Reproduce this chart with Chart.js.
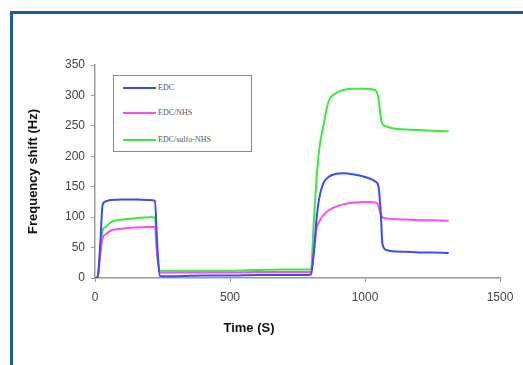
<!DOCTYPE html>
<html>
<head>
<meta charset="utf-8">
<script src="https://cdn.jsdelivr.net/npm/chart.js@4.4.1/dist/chart.umd.min.js"></script>
<style>
  html, body { margin: 0; padding: 0; background: #fff; }
  #wrap { position: relative; width: 523px; height: 365px; overflow: hidden; }
  #frame {
    position: absolute; left: 10px; top: 11px; width: 520px; height: 360px;
    border-left: 3px solid #1d5a98; border-top: 3px solid #1d5a98;
    pointer-events: none;
  }
  #legend {
    position: absolute; left: 113px; top: 75px; width: 137px; height: 75px;
    border: 1px solid #8a8a8a; background: #fff;
    font-family: "Liberation Serif", "Times New Roman", serif; font-size: 8px; color: #555;
  }
  .item { position: absolute; left: 9px; height: 10px; line-height: 10px; }
  .item span.line { display: inline-block; width: 33px; height: 2px; vertical-align: middle; margin-right: 2px; }
</style>
</head>
<body>
<div id="wrap">
  <canvas id="freqChart" width="523" height="365"></canvas>
  <div id="frame"></div>
  <div id="legend"></div>
</div>
<script>
// time points (s), shared by all series
const times = [0, 10, 20, 28, 40, 60, 100, 150, 200, 222, 230, 240, 300, 400, 500, 600, 700, 790, 800,
               810, 820, 830, 845, 865, 890, 920, 960, 1000, 1040, 1050, 1058, 1065, 1080, 1100, 1150, 1200, 1250, 1310];

const edc = [0, 2, 60, 120, 126, 128, 129, 129, 128, 127, 60, 3, 3, 4, 4, 5, 5, 5, 6,
             40, 95, 130, 155, 166, 171, 172, 170, 166, 158, 150, 110, 55, 46, 44, 43, 42, 42, 41];
const edcNhs = [0, 2, 40, 65, 72, 78, 81, 83, 84, 84, 40, 9, 9, 9, 9, 10, 10, 10, 10,
                40, 80, 92, 103, 111, 117, 121, 124, 125, 124, 118, 105, 100, 98, 97, 96, 95, 95, 94];
const edcSulfo = [0, 2, 50, 78, 84, 92, 96, 98, 100, 100, 40, 12, 12, 12, 12, 13, 14, 14, 15,
                  90, 160, 210, 248, 290, 303, 309, 311, 311, 308, 295, 265, 253, 249, 246, 244, 243, 242, 241];

const seriesNames = ['EDC', 'EDC/NHS', 'EDC/sulfo-NHS'];
const seriesColors = ['#3b4cf2', '#ff4cf0', '#3fe83f'];
const seriesValues = [edc, edcNhs, edcSulfo];

const xTicks = [0, 500, 1000, 1500];
const yMax = 350;

const datasets = seriesValues.map((vals, i) => ({
    label: seriesNames[i],
    data: times.map((t, k) => ({ x: t, y: vals[k] })),
    borderColor: seriesColors[i],
    backgroundColor: seriesColors[i],
    borderWidth: 2,
    pointRadius: 0,
    cubicInterpolationMode: 'monotone',
    fill: false
}));

// x axis title drawn a bit left of centre, like the original
const xTitlePlugin = {
    id: 'xTitle',
    afterDraw(chart) {
        const ctx = chart.ctx;
        ctx.save();
        ctx.font = 'bold 13px "Liberation Sans", Arial, sans-serif';
        ctx.fillStyle = '#111';
        ctx.textAlign = 'center';
        ctx.textBaseline = 'middle';
        ctx.fillText('Time (S)', chart.chartArea.left + 154, 328);
        ctx.restore();
    }
};

const tickFont = { family: '"Liberation Sans", Arial, sans-serif', size: 12 };

new Chart(document.getElementById('freqChart').getContext('2d'), {
    type: 'line',
    data: { datasets: datasets },
    options: {
        responsive: false,
        animation: false,
        layout: { padding: { left: 26, top: 65, right: 23, bottom: 0 } },
        plugins: {
            legend: { display: false },
            tooltip: { enabled: false }
        },
        scales: {
            x: {
                type: 'linear',
                min: 0,
                max: 1500,
                afterBuildTicks: axis => { axis.ticks = xTicks.map(v => ({ value: v })); },
                afterFit: axis => { axis.height = 87; },
                grid: { drawOnChartArea: false, tickLength: 4, color: '#9a9a9a' },
                border: { color: '#9a9a9a', width: 1.5 },
                ticks: { font: tickFont, color: '#444', padding: 8, maxRotation: 0, callback: v => String(v) }
            },
            y: {
                min: 0,
                max: yMax,
                afterFit: axis => { axis.width = 69; },
                grid: { drawOnChartArea: false, tickLength: 4, color: '#9a9a9a' },
                border: { color: '#9a9a9a', width: 1.5 },
                ticks: { stepSize: 50, font: tickFont, color: '#444', padding: 6 },
                title: {
                    display: true,
                    text: 'Frequency shift (Hz)',
                    font: { family: '"Liberation Sans", Arial, sans-serif', size: 13, weight: 'bold' },
                    color: '#111',
                    padding: { top: 0, bottom: 4 }
                }
            }
        }
    },
    plugins: [xTitlePlugin]
});

// legend box in the plot, built from the series arrays
const legendEl = document.getElementById('legend');
const rowTops = [7, 32, 59];
seriesNames.forEach((name, i) => {
    const row = document.createElement('div');
    row.className = 'item';
    row.style.top = rowTops[i] + 'px';
    row.innerHTML = '<span class="line" style="background:' + seriesColors[i] + '"></span>' + name;
    legendEl.appendChild(row);
});
</script>
</body>
</html>
